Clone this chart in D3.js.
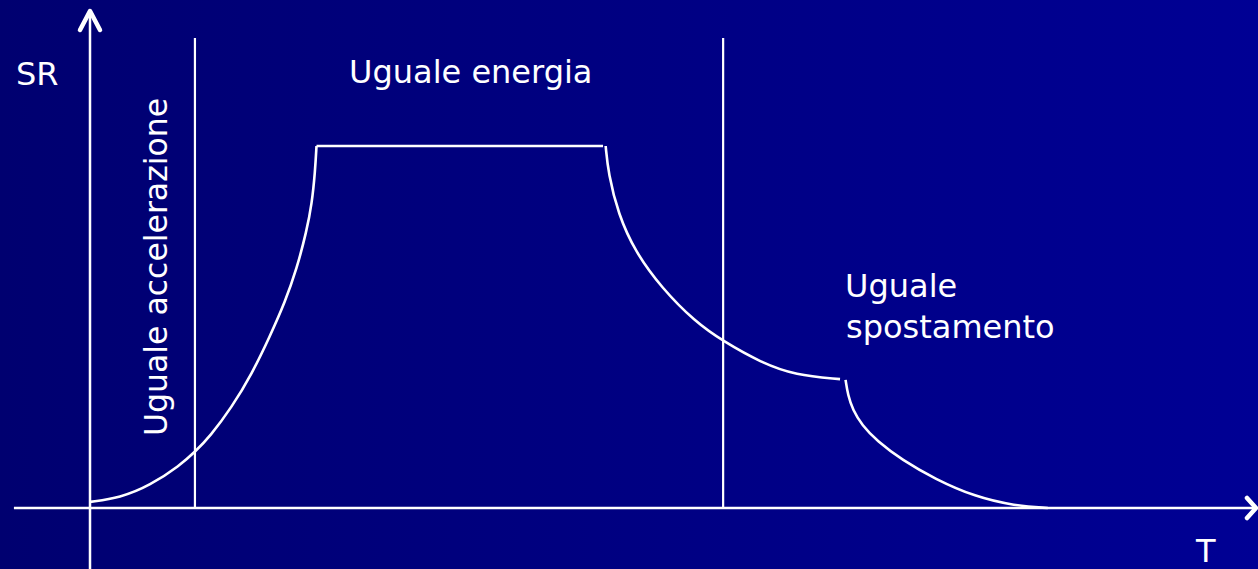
<html>
<title>Spettro di risposta</title>
<script src="https://d3js.org/d3.v7.min.js"></script>
<style>
  body{ margin:0; background:#000080; }
  text{ font-family:"DejaVu Sans", sans-serif; fill:#fff; }
</style>
<body>
<div id="chart"></div>
<script>
// T in seconds, SR normalised to the plateau
var rampT  = [0.000, 0.103, 0.206, 0.309, 0.360, 0.412, 0.486, 0.555, 0.617, 0.669, 0.709, 0.743, 0.761, 0.772, 0.777];
var rampSR = [0.017, 0.028, 0.062, 0.118, 0.155, 0.198, 0.278, 0.370, 0.474, 0.569, 0.660, 0.765, 0.840, 0.928, 1.000];
var plateauT  = [0.777, 1.760];
var plateauSR = [1.000, 1.000];
var energyT  = [1.769, 1.778, 1.812, 1.870, 1.961, 2.075, 2.173, 2.304, 2.419, 2.573];
var energySR = [1.000, 0.925, 0.812, 0.708, 0.608, 0.515, 0.460, 0.401, 0.367, 0.356];
var dispT  = [2.592, 2.600, 2.617, 2.648, 2.700, 2.785, 2.899, 3.036, 3.173, 3.286];
var dispSR = [0.354, 0.312, 0.271, 0.229, 0.185, 0.133, 0.080, 0.031, 0.006, 0.000];
var dividerT = [0.360, 2.172];
var dividerTop = 1.298;

var width = 1258, height = 569;
var x = d3.scaleLinear().domain([0, 4]).range([90, 1256]);
var y = d3.scaleLinear().domain([0, 1]).range([508, 146]);

var svg = d3.select("#chart").append("svg")
    .attr("width", width)
    .attr("height", height);

var grad = svg.append("defs").append("linearGradient")
    .attr("id", "bg").attr("x1", "0%").attr("x2", "100%").attr("y1", "0%").attr("y2", "0%");
grad.append("stop").attr("offset", "0%").attr("stop-color", "#000070");
grad.append("stop").attr("offset", "100%").attr("stop-color", "#000094");
svg.append("rect").attr("width", width).attr("height", height).attr("fill", "url(#bg)");

function zip(ts, srs){ return ts.map(function(t, i){ return [t, srs[i]]; }); }

var line = d3.line()
    .x(function(d){ return x(d[0]); })
    .y(function(d){ return y(d[1]); })
    .curve(d3.curveBasis);

// axes
svg.append("line")
    .attr("x1", x(-0.261)).attr("x2", x(4.0)).attr("y1", y(0)).attr("y2", y(0))
    .attr("stroke", "#fff").attr("stroke-width", 2.5);
svg.append("line")
    .attr("x1", x(0)).attr("x2", x(0)).attr("y1", height).attr("y2", 11)
    .attr("stroke", "#fff").attr("stroke-width", 2.5);
// arrow heads
svg.append("path")
    .attr("d", "M" + (x(0) - 10) + ",30 L" + x(0) + ",11 L" + (x(0) + 10) + ",30")
    .attr("fill", "none").attr("stroke", "#fff").attr("stroke-width", 4.5)
    .attr("stroke-linecap", "round").attr("stroke-linejoin", "round");
svg.append("path")
    .attr("d", "M1247," + (y(0) - 10) + " L1256," + y(0) + " L1247," + (y(0) + 10))
    .attr("fill", "none").attr("stroke", "#fff").attr("stroke-width", 4.5)
    .attr("stroke-linecap", "round").attr("stroke-linejoin", "round");

// region dividers
svg.selectAll("line.div").data(dividerT).enter().append("line")
    .attr("class", "div")
    .attr("x1", function(d){ return x(d); }).attr("x2", function(d){ return x(d); })
    .attr("y1", y(0)).attr("y2", y(dividerTop))
    .attr("stroke", "#fff").attr("stroke-width", 2.2);

// spectrum segments
var segs = [zip(rampT, rampSR), zip(plateauT, plateauSR), zip(energyT, energySR), zip(dispT, dispSR)];
svg.selectAll("path.seg").data(segs).enter().append("path")
    .attr("class", "seg")
    .attr("d", line)
    .attr("fill", "none").attr("stroke", "#fff").attr("stroke-width", 2.6);

// labels
svg.append("text").attr("x", 16).attr("y", 85).style("font-size", "32px").text("SR");
svg.append("text").attr("x", 1196).attr("y", 562).style("font-size", "32px").text("T");
svg.append("text").attr("x", 349).attr("y", 83).style("font-size", "32px").text("Uguale energia");
svg.append("text").attr("x", 845).attr("y", 297).style("font-size", "32px").text("Uguale");
svg.append("text").attr("x", 846).attr("y", 338).style("font-size", "32px").text("spostamento");
svg.append("text")
    .attr("transform", "translate(167,436) rotate(-90)")
    .style("font-size", "31.5px")
    .text("Uguale accelerazione");
</script>
</body>
</html>
